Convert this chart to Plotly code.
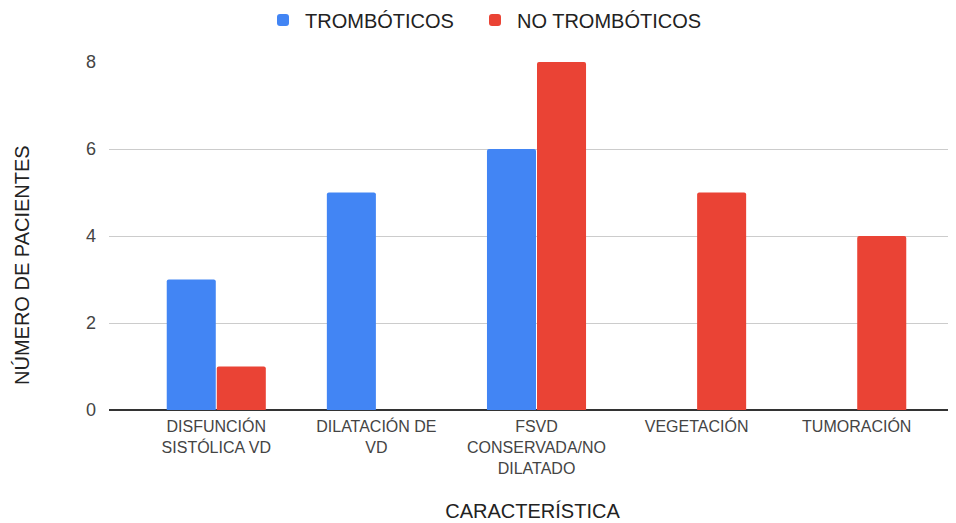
import plotly.graph_objects as go

categories = ["DISFUNCIÓN<br>SISTÓLICA VD", "DILATACIÓN DE<br>VD", "FSVD<br>CONSERVADA/NO<br>DILATADO", "VEGETACIÓN", "TUMORACIÓN"]
tromboticos = [3, 5, 6, None, None]
no_tromboticos = [1, None, 8, 5, 4]
y_ticks = [0, 2, 4, 6, 8]

fig = go.Figure()
fig.add_trace(go.Bar(x=categories, y=tromboticos, name="TROMBÓTICOS", legend="legend",
                     marker=dict(color="#4285F4", cornerradius=2, line=dict(width=0))))
fig.add_trace(go.Bar(x=categories, y=no_tromboticos, name="NO TROMBÓTICOS", legend="legend2",
                     marker=dict(color="#EA4335", cornerradius=2, line=dict(width=0))))

legend_style = dict(orientation="h", xanchor="left", y=0.977, yanchor="middle",
                    xref="container", yref="container", font=dict(size=20, color="#222222"),
                    itemwidth=34)

fig.update_layout(
    width=956, height=523,
    margin=dict(l=101, r=8, t=54, b=121, autoexpand=False),
    paper_bgcolor="white", plot_bgcolor="white",
    font=dict(family="Liberation Sans, Arial, sans-serif", color="#444444"),
    barmode="group", bargap=0.375, bargroupgap=0.02,
    showlegend=True,
    legend=dict(x=253 / 956, **legend_style),
    legend2=dict(x=465 / 956, **legend_style),
    xaxis=dict(range=[-0.67, 4.62], showgrid=False, tickfont=dict(size=16, color="#444444"),
               ticks="", showline=False, zeroline=False, automargin=False, ticklabelstandoff=5,
               title=dict(text="CARACTERÍSTICA", font=dict(size=20, color="#222222"), standoff=28)),
    yaxis=dict(range=[0, 8], tickvals=y_ticks, showgrid=True, gridcolor="#cccccc",
               tickfont=dict(size=18, color="#444444"), zeroline=True, zerolinecolor="#333333",
               zerolinewidth=1.5, ticks="", ticklabelstandoff=12, automargin=False),
    annotations=[dict(text="NÚMERO DE PACIENTES", textangle=-90, showarrow=False,
                      xref="paper", yref="paper", x=(14 - 101) / 847, y=(402 - 257) / 348,
                      xanchor="center", yanchor="middle",
                      font=dict(size=20, color="#222222"))],
)
fig.write_html("out.html")
